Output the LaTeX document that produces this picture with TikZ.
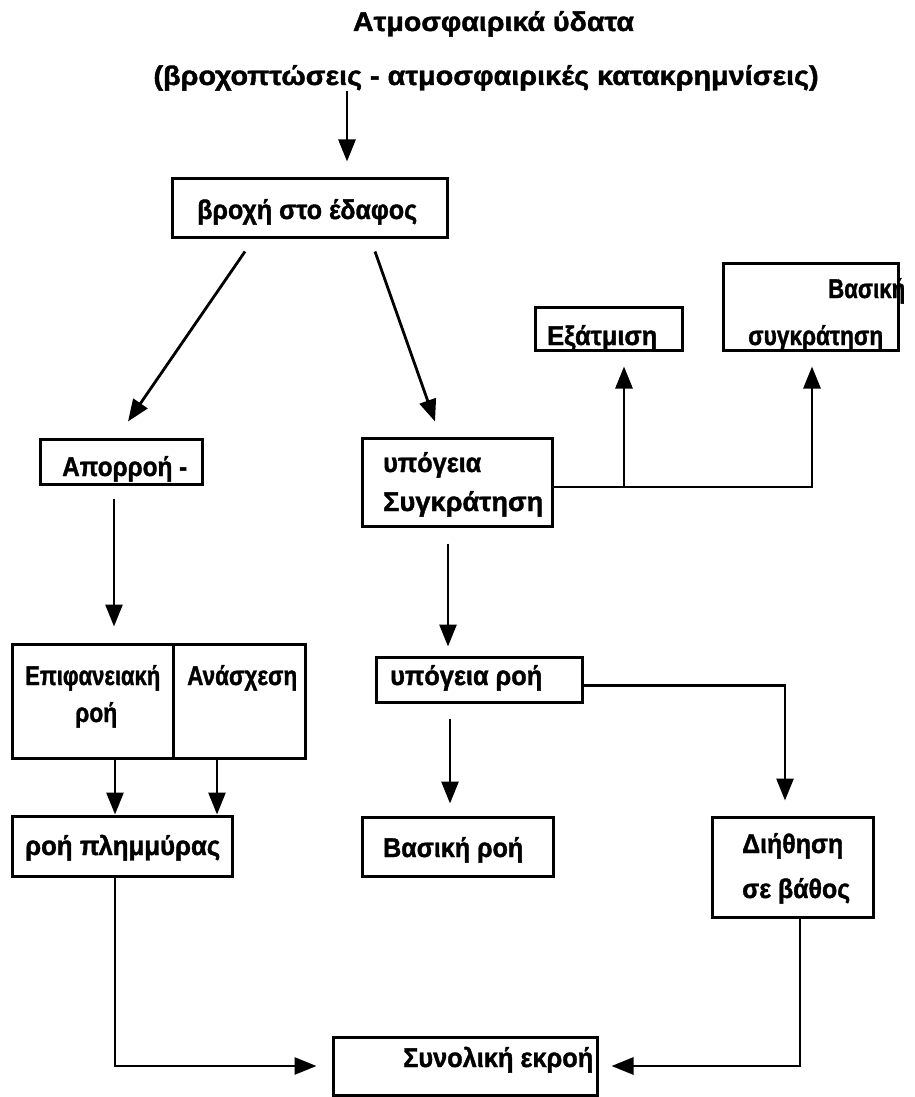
\documentclass[tikz,border=0pt]{standalone}
\usepackage{fontspec}
\setmainfont{Liberation Sans}[BoldFeatures={FakeBold=1.4}]
\usepackage{graphicx}
\usetikzlibrary{arrows.meta,calc}
\newsavebox{\fitbox}
\newcommand{\fitw}[2]{\sbox{\fitbox}{#2}\pgfmathsetmacro{\fitratio}{#1/\the\wd\fitbox}\scalebox{\fitratio}[1]{\usebox{\fitbox}}}
\tikzset{
  box/.style={draw, line width=3pt, inner sep=0pt},
  lbl/.style={inner sep=0pt, anchor=base west, font=\fontsize{27}{31}\selectfont\bfseries},
  arr/.style={line width=2.8pt, -{Triangle[length=22pt,width=17pt]}},
}
\begin{document}
\begin{tikzpicture}[x=1pt,y=-1pt]
\fill[white] (0,0) rectangle (915,1097);
\useasboundingbox (0,0) rectangle (915,1097);

% titles
\node[lbl, anchor=base] (title) at (493.5,31) {\fitw{281}{Ατμοσφαιρικά ύδατα}};
\node[lbl, anchor=base] (subtitle) at (486,85) {\fitw{665}{(βροχοπτώσεις - ατμοσφαιρικές κατακρημνίσεις)}};

% boxes
\node[box, minimum width=275pt, minimum height=59pt] (rain) at (309.5,207.5) {};
\node[box, minimum width=162pt, minimum height=45pt] (runoff) at (121,461.5) {};
\node[box, minimum width=190pt, minimum height=88pt] (gwret) at (457,482) {};
\node[box, minimum width=147pt, minimum height=43pt] (evap) at (608.5,328.5) {};
\node[box, minimum width=175pt, minimum height=87pt] (basret) at (810.5,306.5) {};
\node[box, minimum width=161pt, minimum height=114pt] (surf) at (92.5,701) {};
\node[box, minimum width=132pt, minimum height=114pt] (ret) at (239,701) {};
\node[box, minimum width=220pt, minimum height=60pt] (flood) at (122,846) {};
\node[box, minimum width=206pt, minimum height=45pt] (gwflow) at (479,679.5) {};
\node[box, minimum width=191pt, minimum height=59pt] (baseflow) at (457.5,846.5) {};
\node[box, minimum width=161pt, minimum height=100pt] (perc) at (792.5,867) {};
\node[box, minimum width=264pt, minimum height=58pt] (total) at (465,1066) {};

% labels
\node[lbl] (rainT) at (197,219) {\fitw{220}{βροχή στο έδαφος}};
\node[lbl] (runoffT) at (62,476) {\fitw{125}{Απορροή -}};
\node[lbl] (gwretTa) at (383,472) {\fitw{98}{υπόγεια}};
\node[lbl] (gwretTb) at (383,511) {\fitw{160}{Συγκράτηση}};
\node[lbl] (evapT) at (547,345) {\fitw{110}{Εξάτμιση}};
\node[lbl] (basretTa) at (828,298) {\fitw{77}{Βασική}};
\node[lbl] (basretTb) at (748,345) {\fitw{135}{συγκράτηση}};
\node[lbl] (surfTa) at (25,685) {\fitw{135}{Επιφανειακή}};
\node[lbl] (surfTb) at (75,722) {\fitw{42}{ροή}};
\node[lbl] (retT) at (187,685) {\fitw{110}{Ανάσχεση}};
\node[lbl] (floodT) at (25,855) {\fitw{195}{ροή πλημμύρας}};
\node[lbl] (gwflowT) at (390,685) {\fitw{152}{υπόγεια ροή}};
\node[lbl] (baseflowT) at (383,857) {\fitw{140}{Βασική ροή}};
\node[lbl] (percTa) at (742,853) {\fitw{101}{Διήθηση}};
\node[lbl] (percTb) at (742,898) {\fitw{108}{σε βάθος}};
\node[lbl] (totalT) at (403,1067) {\fitw{190}{Συνολική εκροή}};

% connectors
\coordinate (tA) at (347,0);
\draw[arr, shorten >=15pt] (subtitle.south -| tA) -- (rain.north -| tA);
\draw[arr] ([xshift=-64.5pt,yshift=-13pt]rain.south) -- ([xshift=7pt,yshift=16pt]runoff.north);
\draw[arr] ([xshift=65.5pt,yshift=-13pt]rain.south) -- ([xshift=-22pt,yshift=15pt]gwret.north);
\draw[arr] ([xshift=-7pt,yshift=-13pt]runoff.south) -- ([xshift=21.5pt,yshift=16pt]surf.north);
\draw[arr] ([xshift=22.5pt]surf.south) -- ([xshift=-7pt]flood.north);
\draw[arr] ([xshift=-22pt]ret.south) -- ([xshift=95pt]flood.north);
\draw[arr, shorten >=15pt] ([xshift=-7pt]flood.south) |- (total.west);
\draw[arr, shorten >=13pt] ([xshift=7.5pt]perc.south) |- (total.east);
\draw[arr] ([xshift=-9pt,yshift=-16pt]gwret.south) -- ([xshift=-31pt,yshift=9pt]gwflow.north);
\draw[arr] ([xshift=-29pt,yshift=-15pt]gwflow.south) -- ([xshift=-7.5pt,yshift=12pt]baseflow.north);
\draw[arr, shorten >=15pt] ([yshift=-6pt]gwflow.east) -| ([xshift=-7.5pt]perc.north);
\draw[arr, shorten >=15pt] ([yshift=-5pt]gwret.east) -| ([xshift=1.5pt]basret.south);
\path ([yshift=-5pt]gwret.east) coordinate (g1);
\path ([xshift=15.5pt]evap.south) coordinate (e1);
\draw[arr, shorten >=15pt] (g1 -| e1) -- (e1);
\end{tikzpicture}
\end{document}
